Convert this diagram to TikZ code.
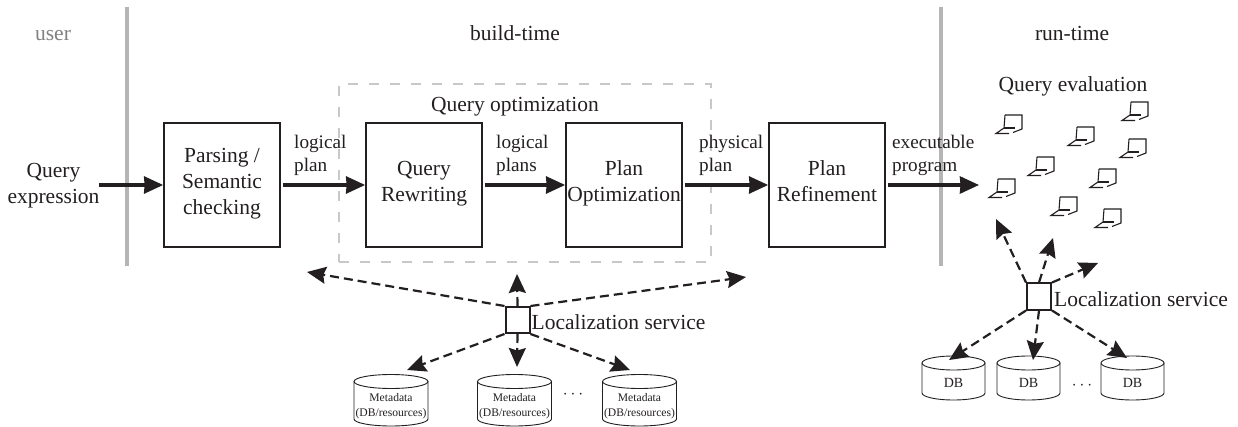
\documentclass[tikz,border=0pt]{standalone}
\usepackage{fontspec}
\setmainfont{Liberation Serif}
\usetikzlibrary{arrows.meta}
\definecolor{ink}{HTML}{231F20}
\definecolor{barcol}{HTML}{B5B5B5}
\definecolor{boxgray}{HTML}{C8C8C8}
\tikzset{
  x=1pt,y=-1pt,
  every node/.style={font=\fontsize{21.5}{26}\selectfont,text=ink,inner sep=0pt,align=center,
    execute at begin node=\strut,execute at end node=\strut},
  stage/.style={draw=ink,line width=1.7pt,minimum width=116pt,minimum height=124pt},
  edgelabel/.style={anchor=west,align=left,font=\fontsize{19.2}{23.5}\selectfont},
  flow/.style={draw=ink,line width=3.3pt,shorten <=2pt,-{Stealth[length=19pt,width=17pt,inset=0.5pt]}},
  lookup/.style={draw=ink,line width=2.2pt,dash pattern=on 9pt off 5pt,-{Stealth[length=19pt,width=17pt,inset=2.5pt]}},
  locbox/.style={draw=ink,line width=2pt,minimum width=24pt,minimum height=22.5pt},
  storeline/.style={draw=ink,line width=0.9pt},
  meta/.style={font=\fontsize{11.6}{14.5}\selectfont},
  dbs/.style={font=\fontsize{14}{16}\selectfont},
  dotsnode/.style={font=\fontsize{17}{20}\selectfont},
  bar/.style={draw=barcol,line width=4pt},
  laptop/.pic={
    \draw[ink,line width=1.1pt] (-17,0) -- (0,0) -- (0,14) -- (-9,17.5);
    \draw[ink,line width=1.1pt] (-17,0) -- (-18,13) -- (-26,18.5) -- (-13,18.5);
    \draw[ink,line width=1.1pt] (-18,13) -- (-7,13);
  }
}
% cylinder outline: centre x, half width, top y, bottom y
\newcommand{\storeshape}[4]{%
  \draw[storeline] (#1,#3+7) ellipse [x radius=#2pt,y radius=7pt];
  \draw[storeline] (#1-#2,#3+7) -- (#1-#2,#4-7)
    arc [start angle=180,end angle=360,x radius=#2pt,y radius=7pt] -- (#1+#2,#3+7);
}
\begin{document}
\begin{tikzpicture}
\useasboundingbox (0,0) rectangle (1238,427);
% phase bars
\coordinate (b1a) at (127,7); \coordinate (b1b) at (127,266);
\coordinate (b2a) at (941,7); \coordinate (b2b) at (941,266);
\draw[bar] (b1a) -- (b1b);
\draw[bar] (b2a) -- (b2b);
\node[text=black!50] (user) at (53,35.8) {user};
\node (build) at (515,35.8) {build-time};
\node (run) at (1072,35.8) {run-time};
% optimisation frame
\node[draw=boxgray,line width=2pt,dash pattern=on 10pt off 11pt,minimum width=372pt,minimum height=178pt] (frame) at (525,173) {};
\node (qo) at (515,106.8) {Query optimization};
% stages
\node[stage] (parse) at (222,185) {Parsing /\\Semantic\\checking};
\node[stage] (rewrite) at (424,185) {Query\\Rewriting};
\node[stage] (opt) at (624,185) {Plan\\Optimization};
\node[stage] (refine) at (827,185) {Plan\\Refinement};
\node (qexpr) at (53.5,187.5) {Query\\expression};
\coordinate (qstart) at (97,185);
\coordinate (qend) at (979,185);
\draw[flow] (qstart) -- (parse.west);
\draw[flow] (parse.east) -- (rewrite.west);
\draw[flow] (rewrite.east) -- (opt.west);
\draw[flow] (opt.east) -- (refine.west);
\draw[flow] (refine.east) -- (qend);
\node[edgelabel] (l1) at (294,157) {logical\\plan};
\node[edgelabel] (l2) at (496,157) {logical\\plans};
\node[edgelabel] (l3) at (699,157) {physical\\plan};
\node[edgelabel] (l4) at (892,157) {executable\\program};
% query evaluation
\node (qe) at (1073,86.3) {Query evaluation};
\foreach \px/\py in {1022/115,1094/127,1148/102,1054/157,1146/139,1015/179,1116/169,1077/197,1121/209}
  \pic at (\px,\py) {laptop};
% left localisation
\node[locbox] (loc) at (517.5,320) {};
\node[anchor=west] (loclabel) at (531.5,323.8) {Localization service};
\storeshape{391}{37}{374.5}{426}
\storeshape{514.5}{37}{374.5}{426}
\storeshape{639.5}{37}{374.5}{426}
\node[meta] (m1) at (391,407) {Metadata\\(DB/resources)};
\node[meta] (m2) at (514.5,407) {Metadata\\(DB/resources)};
\node[meta] (m3) at (639.5,407) {Metadata\\(DB/resources)};
\node[dotsnode] (dots1) at (573,394) {$\cdots$};
\coordinate (t1) at (307,272);
\coordinate (t2) at (517,274);
\coordinate (t3) at (746,277);
\coordinate (t4) at (407,370);
\coordinate (t5) at (517,367);
\coordinate (t6) at (630,370);
\draw[lookup] (loc.north west) -- (t1);
\draw[lookup] (loc.north) -- (t2);
\draw[lookup] (loc.north east) -- (t3);
\draw[lookup] (loc.south west) -- (t4);
\draw[lookup] (loc.south) -- (t5);
\draw[lookup] (loc.south east) -- (t6);
% right localisation
\node[locbox] (rloc) at (1039,296.5) {};
\node[anchor=west] (rloclabel) at (1054,301.5) {Localization service};
\storeshape{953.5}{31.5}{356}{400}
\storeshape{1028.5}{31.5}{356}{400}
\storeshape{1132.5}{31.5}{356}{400}
\node[dbs] (d1) at (953.5,383.8) {DB};
\node[dbs] (d2) at (1028.5,383.8) {DB};
\node[dbs] (d3) at (1132.5,383.8) {DB};
\node[dotsnode] (dots2) at (1082,385) {$\cdots$};
\coordinate (r1) at (996,219);
\coordinate (r2) at (1053,238);
\coordinate (r3) at (1098,263);
\coordinate (r4) at (949,360);
\coordinate (r5) at (1033,360);
\coordinate (r6) at (1127,358);
\draw[lookup] (rloc.north west) -- (r1);
\draw[lookup] (rloc.north) -- (r2);
\draw[lookup] (rloc.north east) -- (r3);
\draw[lookup] (rloc.south west) -- (r4);
\draw[lookup] (rloc.south) -- (r5);
\draw[lookup] (rloc.south east) -- (r6);
\end{tikzpicture}
\end{document}
